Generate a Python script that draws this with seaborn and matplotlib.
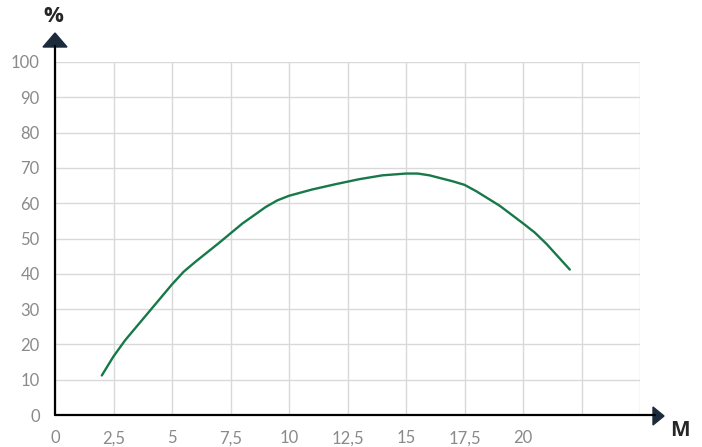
import matplotlib
matplotlib.use("Agg")
import matplotlib.pyplot as plt
import matplotlib.patches as mpatches
import seaborn as sns
import pandas as pd

# data
m_values = [2, 2.5, 3, 4, 5, 5.5, 6, 7, 8, 9, 9.5, 10, 11, 12, 13, 14, 15, 15.5, 16, 17, 17.5, 18, 19, 20, 20.5, 21, 22]
pct_values = [11.2, 16.6, 21.2, 29.1, 37.0, 40.6, 43.4, 48.7, 54.2, 58.9, 60.8, 62.1, 63.9, 65.4, 66.8, 67.9, 68.4, 68.4, 67.9, 66.2, 65.2, 63.4, 59.3, 54.3, 51.7, 48.5, 41.2]
x_ticks = [0, 2.5, 5, 7.5, 10, 12.5, 15, 17.5, 20, 22.5, 25]
x_tick_labels = ["0", "2,5", "5", "7,5", "10", "12,5", "15", "17,5", "20", "", ""]
y_ticks = [0, 10, 20, 30, 40, 50, 60, 70, 80, 90, 100]

df = pd.DataFrame({"M": m_values, "pct": pct_values})

sns.set_style("white")
plt.rcParams["font.family"] = ["Lato", "DejaVu Sans"]

W, H = 702, 447
fig = plt.figure(figsize=(W / 100, H / 100), dpi=100)
ax = fig.add_axes([55 / W, (H - 415) / H, 585 / W, 353 / H])

sns.lineplot(data=df, x="M", y="pct", color="#17784a", linewidth=1.7, ax=ax, zorder=3)
ax.lines[0].set_solid_joinstyle("round")

ax.set_xlim(0, 25)
ax.set_ylim(0, 100)
ax.set_xticks(x_ticks)
ax.set_xticklabels(x_tick_labels)
ax.set_yticks(y_ticks)
ax.grid(True, color="#d9d9d9", linewidth=1.0)
ax.tick_params(axis="both", length=0, labelsize=12, labelcolor="#8a8a8a")
ax.tick_params(axis="x", pad=11)
ax.tick_params(axis="y", pad=11)
ax.set_xlabel("")
ax.set_ylabel("")
for s in ax.spines.values():
    s.set_visible(False)

# axis lines with arrow heads (in pixel space)
def px(x, y):
    return (x / W, (H - y) / H)

fig.add_artist(plt.Line2D([px(55, 415)[0], px(55, 46)[0]], [px(55, 415)[1], px(55, 46)[1]],
                          color="black", linewidth=1.6, transform=fig.transFigure))
fig.add_artist(plt.Line2D([px(55, 415)[0], px(655, 415)[0]], [px(55, 415)[1], px(655, 415)[1]],
                          color="black", linewidth=1.6, transform=fig.transFigure))
fig.add_artist(mpatches.Polygon([px(55, 33), px(43, 47), px(67, 47)], closed=True,
                                color="#1b2b3c", transform=fig.transFigure))
fig.add_artist(mpatches.Polygon([px(664, 416), px(653, 407), px(653, 425)], closed=True,
                                color="#1b2b3c", transform=fig.transFigure))

fig.text(*px(53, 17), "%", fontsize=16, fontweight="bold", family="Open Sans", ha="center", va="center")
fig.text(*px(680, 431), "M", fontsize=15, fontweight="bold", family="Open Sans", ha="center", va="center")

fig.savefig("out.png", dpi=100)
